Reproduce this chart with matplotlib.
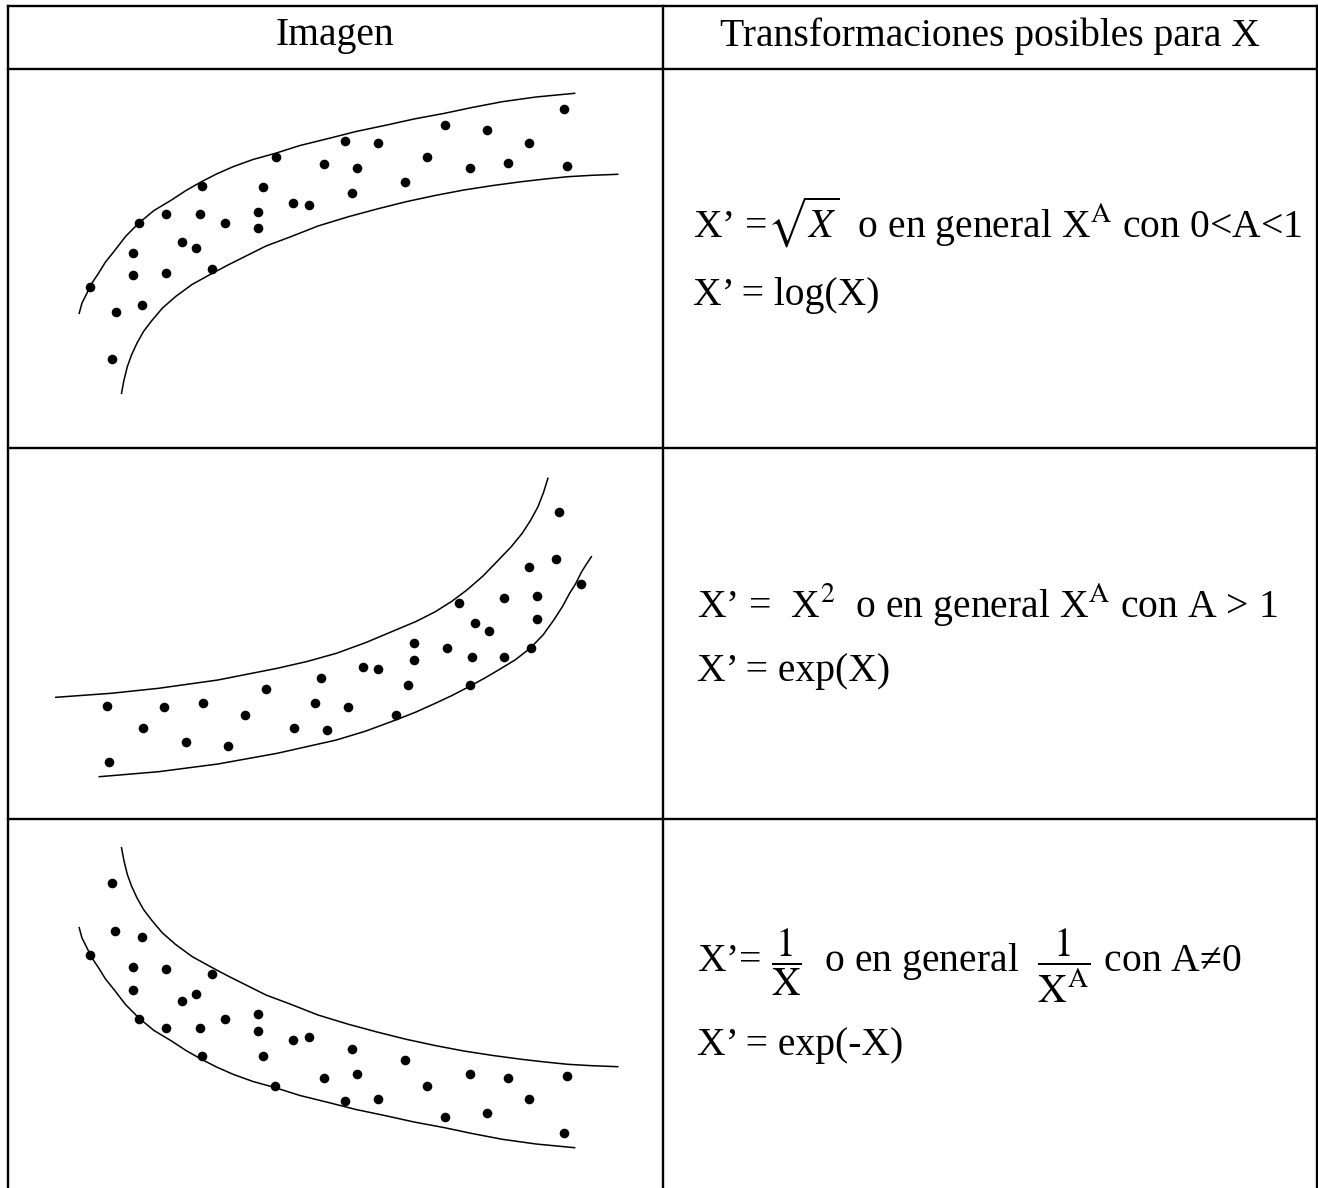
import matplotlib
matplotlib.use("Agg")
import matplotlib.pyplot as plt

plt.rcParams['font.family'] = ['Liberation Serif', 'DejaVu Serif']
plt.rcParams['mathtext.fontset'] = 'stix'

# table header
headers = ['Imagen', 'Transformaciones posibles para X']

# formulas in the right column (two lines per row)
formulas = [
    [r"X’ =$\sqrt{X}$  o en general X$^{\mathrm{A}}$ con 0<A<1", "X’ = log(X)"],
    [r"X’ =  X$^{2}$  o en general X$^{\mathrm{A}}$ con A > 1", "X’ = exp(X)"],
    [r"X’= $\dfrac{1}{\mathrm{X}}$  o en general  $\dfrac{1}{\mathrm{X}^{\mathrm{A}}}$ con A≠0", "X’ = exp(-X)"],
]

# row 1 (concave increasing band), pixel units
dots1_x = [563.8, 444.6, 486.9, 344.6, 377.7, 529.2, 276.2, 427.3, 323.5, 356.9,
           469.6, 508.1, 566.9, 405.4, 201.5, 263.1, 351.5, 292.7, 309.2, 139.2,
           166.2, 200.0, 224.6, 257.7, 257.7, 181.5, 196.2, 133.1, 133.1, 166.2,
           212.3, 90.0, 116.2, 141.5, 111.9]
dots1_y = [109.3, 125.0, 130.0, 141.0, 143.3, 143.3, 156.7, 156.7, 164.0, 168.3,
           168.3, 163.3, 166.0, 181.7, 186.0, 186.7, 193.3, 202.7, 205.0, 222.7,
           214.0, 214.0, 223.3, 211.7, 227.7, 241.7, 247.7, 252.7, 275.0, 272.7,
           268.7, 287.3, 311.7, 305.0, 359.3]
up1_x = [79.2, 82.0, 86.9, 92.0, 98.5, 105.5, 113.8, 125.5, 139.2, 154.0, 171.5, 186.0, 201.5,
         216.5, 233.1, 253.0, 275.4, 300.0, 329.2, 356.0, 386.9, 414.0, 444.6, 472.0, 502.3, 536.0, 574.6]
up1_y = [313.3, 303.0, 293.3, 283.0, 273.3, 262.0, 251.7, 236.5, 222.7, 210.5, 200.0, 190.5, 181.7,
         174.0, 166.7, 159.5, 153.3, 145.5, 138.3, 131.5, 125.0, 119.0, 113.3, 107.5, 101.7, 97.0, 93.3]
lo1_x = [121.5, 124.0, 127.3, 131.5, 136.9, 143.5, 152.3, 162.5, 175.4, 192.0, 212.3, 228.0, 244.6,
         266.0, 290.8, 318.0, 348.5, 377.0, 406.2, 435.0, 463.8, 493.0, 521.5, 545.0, 567.7, 592.0, 617.7]
lo1_y = [393.3, 380.0, 366.7, 355.0, 343.3, 331.5, 320.0, 308.0, 296.7, 284.5, 273.3, 265.0, 256.7,
         246.0, 236.7, 226.0, 216.7, 209.0, 201.7, 195.5, 190.0, 185.5, 181.7, 179.0, 176.7, 175.3, 174.3]

# row 2 (convex increasing band)
dots2_x = [559.0, 555.8, 529.3, 580.7, 504.4, 537.2, 459.0, 537.2, 474.8, 489.4,
           413.9, 447.1, 413.9, 471.6, 504.4, 531.3, 362.5, 377.9, 320.6, 266.1,
           407.6, 470.0, 107.2, 163.7, 202.8, 244.7, 314.7, 347.5, 395.7, 142.8,
           293.8, 326.6, 185.5, 227.7, 109.2]
dots2_y = [512.3, 559.3, 566.7, 584.0, 597.7, 596.0, 603.3, 619.0, 623.3, 630.7,
           643.3, 648.3, 660.0, 657.3, 657.3, 648.3, 666.7, 669.3, 678.3, 689.3,
           685.0, 685.0, 705.7, 707.3, 703.3, 715.0, 703.3, 707.3, 715.0, 728.3,
           727.7, 730.0, 741.7, 746.0, 761.7]
up2_x = [55.8, 111.1, 158.6, 217.9, 277.2, 307.0, 336.4, 366.0, 395.7, 416.0, 435.3, 451.5, 466.9,
         483.0, 498.5, 511.0, 522.2, 530.5, 538.0, 543.5, 547.9]
up2_y = [697.3, 693.3, 688.3, 680.0, 668.3, 661.5, 653.3, 642.5, 630.0, 621.5, 611.7, 601.5, 590.0,
         576.0, 560.0, 547.0, 533.3, 520.5, 506.7, 492.5, 478.3]
lo2_x = [99.3, 158.6, 217.9, 277.2, 336.4, 366.0, 395.7, 416.0, 435.3, 452.0, 468.9, 484.0, 498.5,
         515.0, 530.1, 543.0, 553.8, 562.5, 569.6, 575.5, 581.5, 586.5, 591.4]
lo2_y = [776.7, 771.7, 764.0, 753.3, 740.0, 731.0, 720.0, 712.0, 703.3, 695.5, 686.7, 678.5, 670.0,
         660.0, 648.3, 635.0, 620.0, 606.5, 593.3, 584.0, 572.0, 564.0, 556.7]

# row 3 (convex decreasing band)
dots3_x = [111.9, 115.0, 141.9, 90.0, 133.1, 166.2, 212.3, 133.1, 181.5, 196.2,
           139.2, 166.2, 200.0, 224.6, 257.7, 257.7, 292.7, 309.2, 351.5, 201.5,
           263.1, 405.4, 275.4, 323.5, 356.9, 427.3, 469.6, 508.1, 566.9, 344.6,
           377.7, 529.2, 444.6, 486.9, 563.8]
dots3_y = [882.7, 930.7, 937.3, 955.0, 966.7, 969.3, 974.0, 990.0, 1001.0, 994.0,
           1019.3, 1028.3, 1028.3, 1019.3, 1014.3, 1030.7, 1040.0, 1037.3, 1048.7, 1056.0,
           1056.0, 1060.0, 1085.7, 1078.3, 1074.0, 1085.7, 1074.0, 1078.3, 1076.0, 1101.0,
           1098.7, 1098.7, 1116.7, 1112.7, 1133.0]
up3_x = [121.5, 124.0, 127.3, 131.5, 136.9, 143.5, 152.3, 162.5, 175.4, 192.0, 212.3, 228.0, 244.6,
         266.0, 290.8, 318.0, 348.5, 377.0, 406.2, 435.0, 463.8, 493.0, 521.5, 545.0, 567.7, 592.0, 617.7]
up3_y = [847.7, 861.0, 874.3, 886.0, 897.7, 909.5, 921.0, 933.0, 944.3, 956.5, 967.7, 976.0, 984.3,
         995.0, 1004.3, 1015.0, 1024.3, 1032.0, 1039.3, 1045.5, 1051.0, 1055.5, 1059.3, 1062.0, 1064.3, 1065.7, 1066.7]
lo3_x = [79.2, 82.0, 86.9, 92.0, 98.5, 105.5, 113.8, 125.5, 139.2, 154.0, 171.5, 186.0, 201.5,
         216.5, 233.1, 253.0, 275.4, 300.0, 329.2, 356.0, 386.9, 414.0, 444.6, 472.0, 502.3, 536.0, 574.6]
lo3_y = [927.7, 938.0, 947.7, 958.0, 967.7, 979.0, 989.3, 1004.5, 1018.3, 1030.5, 1041.0, 1050.5, 1059.3,
         1067.0, 1074.3, 1081.5, 1087.7, 1095.5, 1102.7, 1109.5, 1116.0, 1122.0, 1127.7, 1133.5, 1139.3, 1144.0, 1147.7]

W, H = 1318, 1188
fig = plt.figure(figsize=(W / 100, H / 100), dpi=100)
ax = fig.add_axes([0, 0, 1, 1])
ax.set_xlim(0, W)
ax.set_ylim(H, 0)
ax.axis('off')

# table grid
lw = 1.7
ax.plot([7.5, 1316.5], [6, 6], color='black', lw=lw)
for y in [69, 448, 819]:
    ax.plot([7.5, 1316.5], [y, y], color='black', lw=lw)
for x in [7.5, 663, 1316.5]:
    ax.plot([x, x], [6, H], color='black', lw=lw)

# header text
ax.text(335, 36, headers[0], fontsize=28.5, ha='center', va='center')
ax.text(990, 36, headers[1], fontsize=28.5, ha='center', va='center')

# scatter panels
panels = [
    (dots1_x, dots1_y, up1_x, up1_y, lo1_x, lo1_y),
    (dots2_x, dots2_y, up2_x, up2_y, lo2_x, lo2_y),
    (dots3_x, dots3_y, up3_x, up3_y, lo3_x, lo3_y),
]
for dx, dy, ux, uy, lx, ly in panels:
    ax.plot(ux, uy, color='black', lw=1.1)
    ax.plot(lx, ly, color='black', lw=1.1)
    ax.scatter(dx, dy, s=48, color='black', linewidths=0)

# formulas
baselines = [(238, 305), (617, 681), (972, 1055)]
starts = [693, 697, 697]
for (l1, l2), (b1, b2), x0 in zip(formulas, baselines, starts):
    ax.text(x0, b1, l1, fontsize=28.5, ha='left', va='baseline')
    ax.text(x0, b2, l2, fontsize=28.5, ha='left', va='baseline')

fig.savefig('out.png', dpi=100)
